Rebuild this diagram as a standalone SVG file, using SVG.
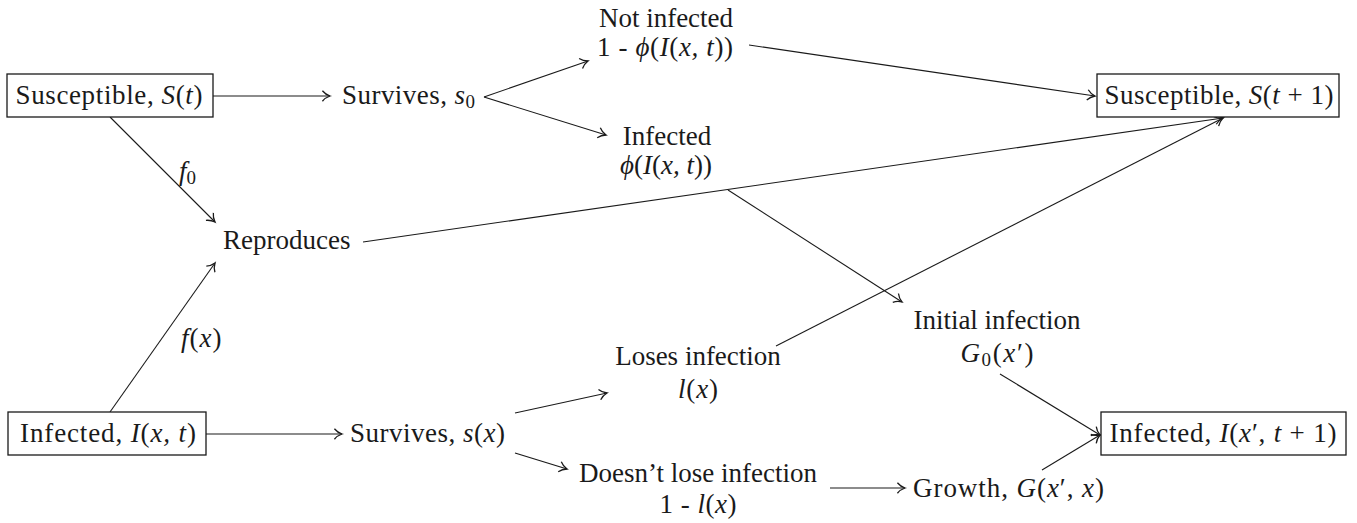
<svg xmlns="http://www.w3.org/2000/svg" width="1357" height="523" viewBox="0 0 1357 523">
<defs>
<style>
text{font-family:"Liberation Serif","DejaVu Serif",serif;font-size:27px;fill:#1a1a1a}
.m{font-style:italic}
.c{text-anchor:middle}
.box{fill:#fff;stroke:#1a1a1a;stroke-width:1.3}
.e{stroke:#1a1a1a;stroke-width:1.1;fill:none;marker-end:url(#ar)}
</style>
<marker id="ar" markerUnits="userSpaceOnUse" markerWidth="14" markerHeight="14" viewBox="-8 -6 10 12" refX="0" refY="0" orient="auto" overflow="visible">
<path d="M-6.5,-4.5 C-4.5,-2 -1.5,-0.5 0,0 C-1.5,0.5 -4.5,2 -6.5,4.5" fill="none" stroke="#1a1a1a" stroke-width="1.1"/>
</marker>
</defs>
<rect width="1357" height="523" fill="#fff"/>
<g id="connectors">
<line class="e" x1="213" y1="96" x2="330" y2="96"/>
<line class="e" x1="484" y1="97" x2="588" y2="61"/>
<line class="e" x1="484" y1="97" x2="606" y2="135"/>
<line class="e" x1="749" y1="45" x2="1095" y2="96"/>
<line class="e" x1="110" y1="117" x2="215" y2="222"/>
<line class="e" x1="363" y1="242" x2="1223" y2="118"/>
<line class="e" x1="776" y1="346" x2="1223" y2="118"/>
<line class="e" x1="728" y1="190" x2="902" y2="302"/>
<line class="e" x1="110" y1="412" x2="215" y2="263"/>
<line class="e" x1="206" y1="434" x2="342" y2="434"/>
<line class="e" x1="515" y1="413" x2="607" y2="393"/>
<line class="e" x1="515" y1="453" x2="567" y2="469"/>
<line class="e" x1="830" y1="488" x2="905" y2="488"/>
<line class="e" x1="1000" y1="374" x2="1100" y2="435"/>
<line class="e" x1="1042" y1="470" x2="1100" y2="435"/>
</g>
<g id="n-st">
<rect class="box" x="7" y="74" width="206" height="43"/>
<text class="c" x="109" y="104" textLength="187" lengthAdjust="spacing">Susceptible, <tspan class="m">S</tspan>(<tspan class="m">t</tspan>)</text>
</g>
<g id="n-survives0">
<text x="342" y="104" textLength="133" lengthAdjust="spacing">Survives, <tspan class="m">s</tspan><tspan font-size="19" dy="4">0</tspan></text>
</g>
<g id="n-notinf">
<text class="c" x="666" y="27">Not infected</text>
<text class="c" x="665" y="56" textLength="136" lengthAdjust="spacing">1 - <tspan class="m">ϕ</tspan>(<tspan class="m">I</tspan>(<tspan class="m">x, t</tspan>))</text>
</g>
<g id="n-inf">
<text class="c" x="667" y="145">Infected</text>
<text class="c" x="666" y="174" textLength="92" lengthAdjust="spacing"><tspan class="m">ϕ</tspan>(<tspan class="m">I</tspan>(<tspan class="m">x, t</tspan>))</text>
</g>
<g id="n-st1">
<rect class="box" x="1097" y="74" width="242" height="43"/>
<text class="c" x="1219" y="104" textLength="229" lengthAdjust="spacing">Susceptible, <tspan class="m">S</tspan>(<tspan class="m">t</tspan> + 1)</text>
</g>
<g id="l-f0">
<text x="179" y="180"><tspan class="m">f</tspan><tspan font-size="19" dy="4">0</tspan></text>
</g>
<g id="n-repro">
<text x="223" y="249">Reproduces</text>
</g>
<g id="l-fx">
<text x="181" y="347" letter-spacing="1"><tspan class="m">f</tspan>(<tspan class="m">x</tspan>)</text>
</g>
<g id="n-initial">
<text class="c" x="997" y="329">Initial infection</text>
<text class="c" x="997" y="362" textLength="73" lengthAdjust="spacing"><tspan class="m">G</tspan><tspan font-size="19" dy="4">0</tspan><tspan dy="-4">(</tspan><tspan class="m">x</tspan>′)</text>
</g>
<g id="n-loses">
<text class="c" x="698" y="365">Loses infection</text>
<text class="c" x="698" y="398" textLength="40" lengthAdjust="spacing"><tspan class="m">l</tspan>(<tspan class="m">x</tspan>)</text>
</g>
<g id="n-ixt">
<rect class="box" x="8" y="412" width="198" height="43"/>
<text class="c" x="108" y="442" textLength="176" lengthAdjust="spacing">Infected, <tspan class="m">I</tspan>(<tspan class="m">x, t</tspan>)</text>
</g>
<g id="n-survivesx">
<text x="350" y="442" textLength="155" lengthAdjust="spacing">Survives, <tspan class="m">s</tspan>(<tspan class="m">x</tspan>)</text>
</g>
<g id="n-ixt1">
<rect class="box" x="1101" y="412" width="245" height="43"/>
<text class="c" x="1223" y="442" textLength="227" lengthAdjust="spacing">Infected, <tspan class="m">I</tspan>(<tspan class="m">x</tspan>′, <tspan class="m">t</tspan> + 1)</text>
</g>
<g id="n-doesnt">
<text class="c" x="698" y="482">Doesn’t lose infection</text>
<text class="c" x="698" y="513" textLength="77" lengthAdjust="spacing">1 - <tspan class="m">l</tspan>(<tspan class="m">x</tspan>)</text>
</g>
<g id="n-growth">
<text x="913" y="497" textLength="191" lengthAdjust="spacing">Growth, <tspan class="m">G</tspan>(<tspan class="m">x</tspan>′, <tspan class="m">x</tspan>)</text>
</g>
</svg>
